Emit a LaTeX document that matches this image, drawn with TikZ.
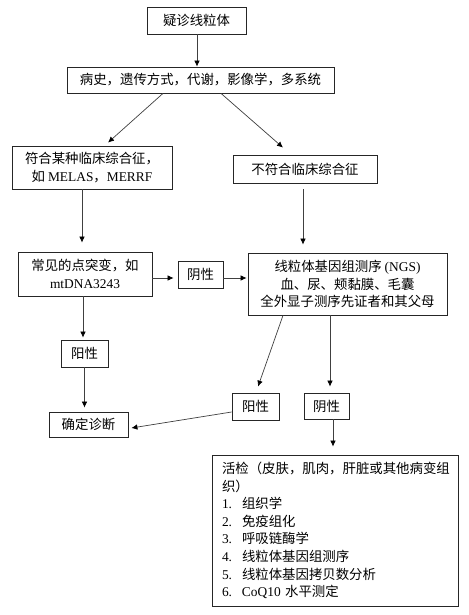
\documentclass[tikz,border=0pt]{standalone}
\usepackage{fontspec}
\setmainfont{Noto Sans CJK SC}
\newfontfamily\enfont{Liberation Serif}
\newcommand\en[1]{{\enfont #1}}
\usetikzlibrary{arrows.meta}
\newcommand\fs{\fontsize{13.4pt}{17.6pt}\selectfont}
\newcommand\itm[2]{\makebox[20pt][l]{\en{#1}}#2}
\begin{document}
\begin{tikzpicture}[x=1pt,y=-1pt,
  box/.style={draw=black!85, line width=0.8pt, inner sep=0pt, align=center, font=\fs},
  arr/.style={draw=black!75, line width=0.7pt, -{Latex[length=6pt,width=5.5pt,black]}}]
\useasboundingbox[fill=white] (0,0) rectangle (468,615);

\node[box, minimum width=99pt, minimum height=27pt] (b1) at (196.5,20.5) {疑诊线粒体};
\node[box, minimum width=267pt, minimum height=26pt] (b2) at (200.5,80) {病史，遗传方式，代谢，影像学，多系统};
\node[box, minimum width=160pt, minimum height=43pt] (b3) at (92,167.5) {符合某种临床综合征，\\ 如 \en{MELAS}，\en{MERRF}};
\node[box, minimum width=144pt, minimum height=28pt] (b4) at (305,169) {不符合临床综合征};
\node[box, minimum width=134pt, minimum height=44pt] (b5) at (85,274) {常见的点突变，如\\ \en{mtDNA3243}};
\node[box, minimum width=45pt, minimum height=27pt] (neg1) at (200.5,274.5) {阴性};
\node[box, minimum width=199pt, minimum height=62pt] (ngs) at (347.5,284) {线粒体基因组测序 \en{(NGS)}\\ 血、尿、颊黏膜、毛囊\\ 全外显子测序先证者和其父母};
\node[box, minimum width=47pt, minimum height=27pt] (pos1) at (84.5,353.5) {阳性};
\node[box, minimum width=79pt, minimum height=25pt] (diag) at (88.5,424.5) {确定诊断};
\node[box, minimum width=47pt, minimum height=27pt] (pos2) at (255.5,406.5) {阳性};
\node[box, minimum width=45pt, minimum height=26pt] (neg2) at (326.5,406) {阴性};
\node[box, align=left, text width=226pt, inner xsep=10pt, minimum height=151pt] (bx) at (335,530.5)
  {活检（皮肤，肌肉，肝脏或其他病变组\\
   织）\\
   \itm{1.}{组织学}\\
   \itm{2.}{免疫组化}\\
   \itm{3.}{呼吸链酶学}\\
   \itm{4.}{线粒体基因组测序}\\
   \itm{5.}{线粒体基因拷贝数分析}\\
   \itm{6.}{\en{CoQ10} 水平测定}};

\draw[arr] ([xshift=0.5pt]b1.south) -- ([xshift=0.5pt]b1.south |- b2.north);
\draw[arr] ([xshift=-37.5pt]b2.south) -- ([xshift=16pt,yshift=3pt]b3.north);
\draw[arr] ([xshift=20.5pt]b2.south) -- ([xshift=-22pt,yshift=7pt]b4.north);
\draw[arr, shorten >=9pt] ([xshift=-10pt]b3.south) -- ([xshift=-10pt]b3.south |- b5.north);
\draw[arr, shorten <=6pt, shorten >=8pt] ([xshift=-2pt]b4.south) -- ([xshift=-2pt]b4.south |- ngs.north);
\draw[arr, shorten >=4pt] ([yshift=-4pt]b5.east) -- ([yshift=-4pt]b5.east -| neg1.west);
\draw[arr, shorten >=1pt] ([yshift=-3.5pt]neg1.east) -- ([yshift=-3.5pt]neg1.east -| ngs.west);
\draw[arr, shorten >=2pt] ([xshift=-2pt]b5.south) -- ([xshift=-2pt]b5.south |- pos1.north);
\draw[arr, shorten >=4pt] (pos1.south) -- (pos1.south |- diag.north);
\draw[arr] ([xshift=-64.5pt]ngs.south) -- ([xshift=2.5pt,yshift=6pt]pos2.north);
\draw[arr] ([yshift=-5.5pt]pos2.west) -- ([xshift=3pt,yshift=-3.5pt]diag.east);
\draw[arr, shorten >=6pt] ([xshift=-17.5pt]ngs.south) -- ([xshift=-17.5pt]ngs.south |- neg2.north);
\draw[arr, shorten >=8pt] ([xshift=6.5pt]neg2.south) -- ([xshift=6.5pt]neg2.south |- bx.north);
\end{tikzpicture}
\end{document}
